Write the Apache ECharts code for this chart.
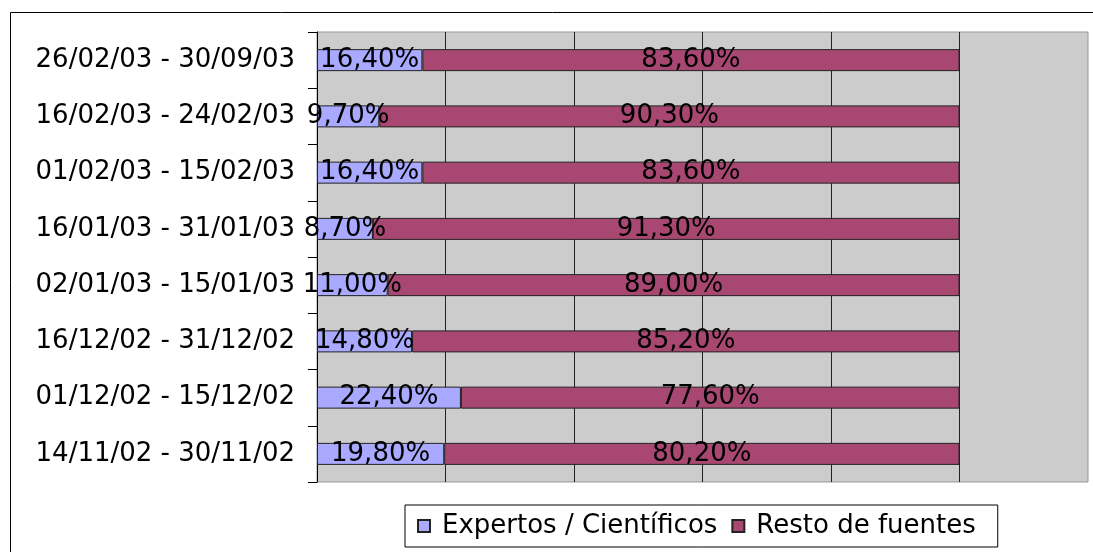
<!DOCTYPE html>
<html>
<head>
<meta charset="utf-8">
<script src="https://cdn.jsdelivr.net/npm/echarts@6/dist/echarts.min.js"></script>
<style>
  html, body { margin: 0; padding: 0; background: #fff; }
  #chart { width: 1093px; height: 552px; }
</style>
</head>
<body>
<div id="chart"></div>
<script>
// periodos, de arriba a abajo
const periodos = [
  '26/02/03 - 30/09/03',
  '16/02/03 - 24/02/03',
  '01/02/03 - 15/02/03',
  '16/01/03 - 31/01/03',
  '02/01/03 - 15/01/03',
  '16/12/02 - 31/12/02',
  '01/12/02 - 15/12/02',
  '14/11/02 - 30/11/02'
]
const expertos = [16.4, 9.7, 16.4, 8.7, 11.0, 14.8, 22.4, 19.8]
const restoFuentes = [83.6, 90.3, 83.6, 91.3, 89.0, 85.2, 77.6, 80.2]

const fuente = 'DejaVu Sans'
const fmt = (p) => p.value.toFixed(2).replace('.', ',') + '%'

const chart = echarts.init(document.getElementById('chart'))

const barLabel = {
  show: true,
  position: 'inside',
  formatter: fmt,
  color: '#000',
  fontSize: 26,
  fontFamily: fuente
}

chart.setOption({
  animation: false,
  backgroundColor: '#fff',
  graphic: [{
    type: 'rect',
    shape: { x: 10.5, y: 12.5, width: 1200, height: 700 },
    style: { fill: 'none', stroke: '#000', lineWidth: 1 },
    z: -10
  }],
  grid: {
    left: 317,
    right: 5,
    top: 32,
    bottom: 70,
    show: true,
    backgroundColor: '#cccccc',
    borderColor: '#999',
    borderWidth: 1
  },
  legend: {
    left: 405,
    top: 505,
    padding: [8, 22, 8, 12],
    itemWidth: 12,
    itemHeight: 12,
    itemGap: 14,
    icon: 'rect',
    borderColor: '#000',
    borderWidth: 1,
    backgroundColor: '#fff',
    textStyle: { color: '#000', fontSize: 26, fontFamily: fuente, padding: [0, 0, 0, 7] },
    data: ['Expertos / Científicos', 'Resto de fuentes']
  },
  xAxis: {
    type: 'value',
    min: 0,
    max: 120,
    interval: 20,
    axisLabel: { show: false },
    axisTick: { show: false },
    axisLine: { show: false },
    splitLine: {
      show: true,
      showMinLine: false,
      showMaxLine: false,
      lineStyle: { color: '#222', width: 1 }
    }
  },
  yAxis: {
    type: 'category',
    inverse: true,
    data: periodos,
    axisLine: { show: true, lineStyle: { color: '#000', width: 1 } },
    axisTick: { show: true, length: 9, lineStyle: { color: '#000' } },
    axisLabel: { color: '#000', fontSize: 26, fontFamily: fuente, margin: 22 }
  },
  series: [
    {
      name: 'Expertos / Científicos',
      type: 'bar',
      stack: 'total',
      barWidth: 22,
      data: expertos,
      itemStyle: { color: '#a9a9ff', borderColor: '#222', borderWidth: 1 },
      label: barLabel
    },
    {
      name: 'Resto de fuentes',
      type: 'bar',
      stack: 'total',
      barWidth: 22,
      data: restoFuentes,
      itemStyle: { color: '#a84872', borderColor: '#222', borderWidth: 1 },
      label: barLabel
    }
  ]
})
</script>
</body>
</html>
